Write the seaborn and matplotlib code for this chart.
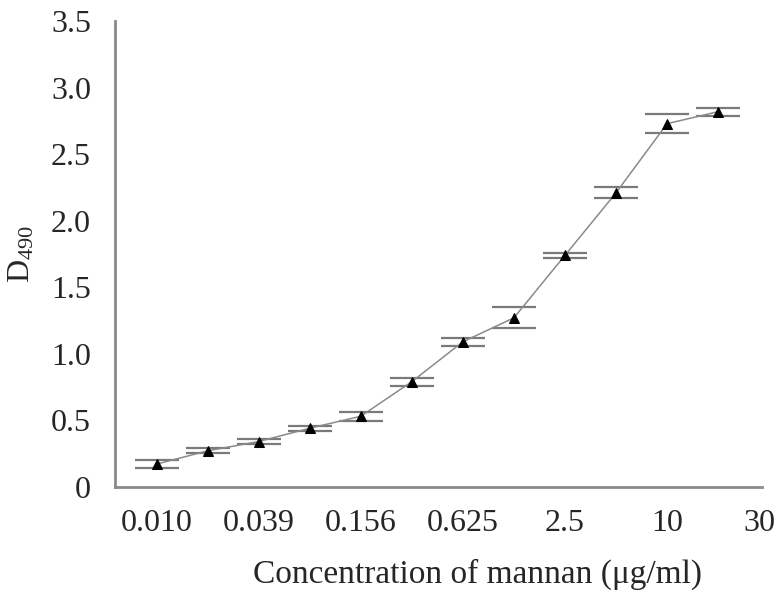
import matplotlib
matplotlib.use("Agg")
import matplotlib.pyplot as plt
import numpy as np
import pandas as pd
import seaborn as sns

# ---------------- data ----------------
concentration = ["0.010", "0.020", "0.039", "0.078", "0.156", "0.313",
                 "0.625", "1.25", "2.5", "5", "10", "20"]
d490 = [0.17, 0.27, 0.34, 0.44, 0.53, 0.79, 1.09, 1.27, 1.74, 2.21, 2.73, 2.82]
d490_err = [0.03, 0.02, 0.02, 0.02, 0.035, 0.03, 0.03, 0.08, 0.02, 0.04, 0.07, 0.03]
tick_labels = ["0.010", "0.039", "0.156", "0.625", "2.5", "10", "30"]
y_ticks = [0, 0.5, 1.0, 1.5, 2.0, 2.5, 3.0, 3.5]
y_labels = ["0", "0.5", "1.0", "1.5", "2.0", "2.5", "3.0", "3.5"]

df = pd.DataFrame({"pos": np.arange(len(concentration)), "conc": concentration,
                   "d490": d490, "err": d490_err})

# ---------------- style ----------------
sns.set_style("white")
plt.rcParams["font.family"] = ["Liberation Serif", "DejaVu Serif"]
plt.rcParams["mathtext.fontset"] = "stix"

fig = plt.figure(figsize=(7.8, 5.9), dpi=100)
ax = fig.add_axes([0.147, 0.175, 0.83, 0.789])

sns.lineplot(x="pos", y="d490", data=df, ax=ax, color="#8a8a8a", linewidth=1.1,
             marker="^", markersize=6.5, markerfacecolor="black",
             markeredgecolor="black", zorder=3)
ax.errorbar(df["pos"], df["d490"], yerr=df["err"], fmt="none", ecolor="#7a7a7a",
            elinewidth=0, capsize=16, capthick=1.6, zorder=2)

ax.set_xlim(-0.82, 11.86)
ax.set_ylim(0, 3.5)

ax.set_yticks(y_ticks)
ax.set_yticklabels(y_labels, fontsize=23)
ax.set_xticks(df["pos"], minor=True)
ax.set_xticks([0, 2, 4, 6, 8, 10, 11.8])
ax.set_xticklabels(tick_labels, fontsize=23)
ax.tick_params(axis="x", which="major", length=0, pad=16)
ax.tick_params(axis="x", which="minor", length=3, width=2, color="#555555", direction="out")
ax.tick_params(axis="y", length=3, width=2, color="#555555", direction="out", pad=14)

for side in ["top", "right"]:
    ax.spines[side].set_visible(False)
for side in ["left", "bottom"]:
    ax.spines[side].set_color("#8a8a8a")
    ax.spines[side].set_linewidth(2)

ax.set_xlabel("Concentration of mannan (\u03bcg/ml)", fontsize=24)
ax.xaxis.set_label_coords(0.56, -0.155)
ax.set_ylabel(r"D$_{\mathregular{490}}$", fontsize=23, labelpad=10)

fig.savefig("out.png", dpi=100)
